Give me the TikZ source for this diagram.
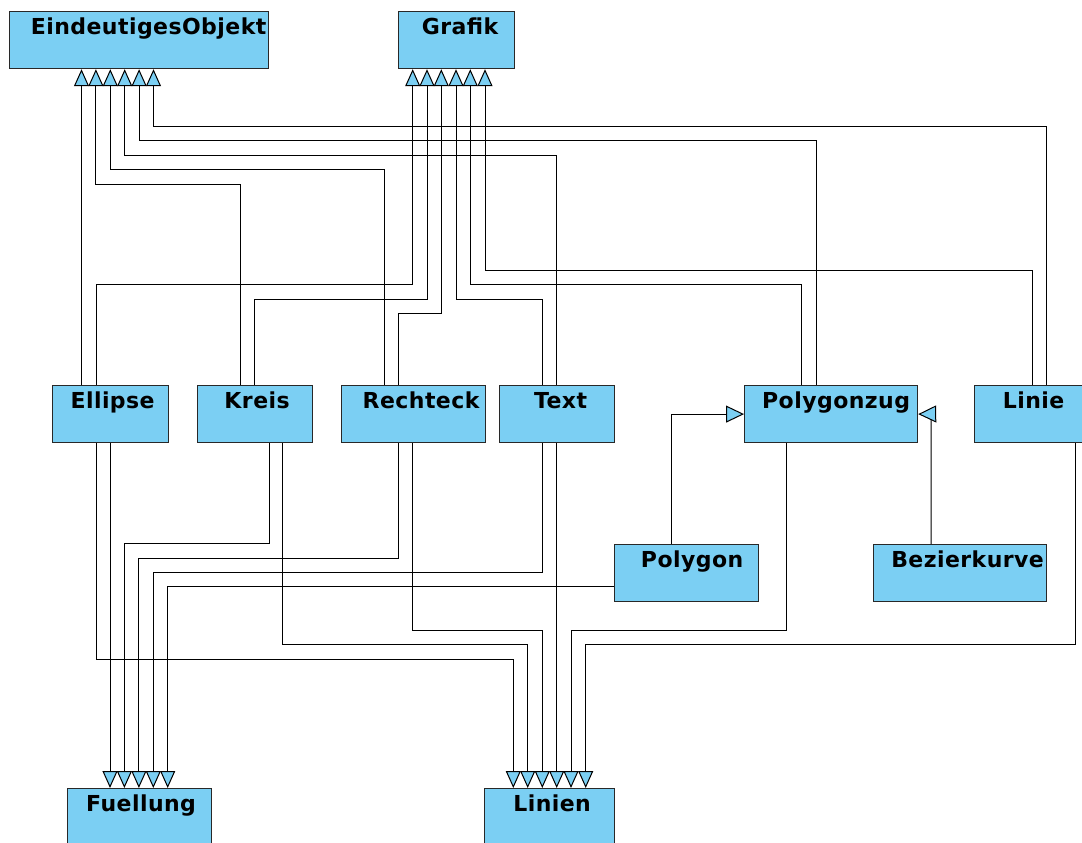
\documentclass[tikz,border=0pt]{standalone}
\usepackage{fontspec}
\setmainfont[LetterSpace=2]{DejaVu Sans}
\usetikzlibrary{arrows.meta}
\definecolor{boxblue}{RGB}{123,207,243}
\definecolor{edgegray}{RGB}{40,40,40}
\begin{document}
\begin{tikzpicture}[x=1pt,y=-1pt,
  box/.style={rectangle, draw=edgegray, line width=1.2pt, fill=boxblue,
    anchor=north west, inner sep=0pt, minimum height=57pt,
    text height=23pt, text depth=34pt,
    font=\fontsize{22}{26}\selectfont\bfseries},
  gen/.style={draw=black, line width=1pt, line join=miter,
    -{Triangle[length=17pt,width=15pt,fill=boxblue]}},
  genside/.style={draw=black, line width=1pt, line join=miter,
    -{Triangle[length=18pt,width=17pt,fill=boxblue]}}]
\useasboundingbox (0,0) rectangle (1082,843);

% classes
\node[box, minimum width=259pt] (eo) at (9,11) {\hspace*{19pt}EindeutigesObjekt};
\node[box, minimum width=116pt] (grafik) at (398,11) {\hspace*{7pt}Grafik};
\node[box, minimum width=116pt] (ellipse) at (52,385) {\hspace*{4pt}Ellipse};
\node[box, minimum width=115pt] (kreis) at (197,385) {\hspace*{4pt}Kreis};
\node[box, minimum width=144pt] (rechteck) at (341,385) {\hspace*{15pt}Rechteck};
\node[box, minimum width=115pt] (text) at (499,385) {\hspace*{7pt}Text};
\node[box, minimum width=173pt] (polygonzug) at (744,385) {\hspace*{10pt}Polygonzug};
\node[box, minimum width=116pt] (linie) at (974,385) {\hspace*{2pt}Linie};
\node[box, minimum width=144pt] (polygon) at (614,544) {\hspace*{11pt}Polygon};
\node[box, minimum width=173pt] (bezier) at (873,544) {\hspace*{15pt}Bezierkurve};
\node[box, minimum width=144pt] (fuellung) at (67,788) {\hspace*{3pt}Fuellung};
\node[box, minimum width=130pt] (linien) at (484,788) {\hspace*{5pt}Linien};

% generalisations to EindeutigesObjekt
\draw[gen] (ellipse.north -| 81.5,0) -- (eo.south -| 81.5,0);
\draw[gen] (kreis.north -| 240,0) |- (95.9,184) -- (eo.south -| 95.9,0);
\draw[gen] (rechteck.north -| 384,0) |- (110.3,169) -- (eo.south -| 110.3,0);
\draw[gen] (text.north -| 556.7,0) |- (124.7,155) -- (eo.south -| 124.7,0);
\draw[gen] (polygonzug.north -| 816,0) |- (139.1,140) -- (eo.south -| 139.1,0);
\draw[gen] (linie.north -| 1046.5,0) |- (153.5,126) -- (eo.south -| 153.5,0);

% generalisations to Grafik
\draw[gen] (ellipse.north -| 96,0) |- (412.7,284) -- (grafik.south -| 412.7,0);
\draw[gen] (kreis.north -| 254,0) |- (427,299) -- (grafik.south -| 427,0);
\draw[gen] (rechteck.north -| 398.3,0) |- (441.3,313) -- (grafik.south -| 441.3,0);
\draw[gen] (text.north -| 542.3,0) |- (456,299) -- (grafik.south -| 456,0);
\draw[gen] (polygonzug.north -| 801.7,0) |- (470.3,284) -- (grafik.south -| 470.3,0);
\draw[gen] (linie.north -| 1032,0) |- (485,270) -- (grafik.south -| 485,0);

% generalisations to Polygonzug
\draw[genside] (polygon.north -| 671.7,0) |- (polygonzug.west);
\draw[genside] (bezier.north -| 931,0) -- (931,414) -- (polygonzug.east);

% generalisations to Fuellung
\draw[gen] (ellipse.south -| 110,0) -- (fuellung.north -| 110,0);
\draw[gen] (kreis.south -| 269,0) |- (124.4,543.7) -- (fuellung.north -| 124.4,0);
\draw[gen] (rechteck.south -| 398.3,0) |- (138.9,558) -- (fuellung.north -| 138.9,0);
\draw[gen] (text.south -| 542.3,0) |- (153.3,572.7) -- (fuellung.north -| 153.3,0);
\draw[gen] (polygon.west |- 0,586.7) -- (167.7,586.7) -- (fuellung.north -| 167.7,0);

% generalisations to Linien
\draw[gen] (ellipse.south -| 96,0) |- (513.3,659) -- (linien.north -| 513.3,0);
\draw[gen] (kreis.south -| 282.7,0) |- (527.7,644) -- (linien.north -| 527.7,0);
\draw[gen] (rechteck.south -| 412.7,0) |- (542.3,630) -- (linien.north -| 542.3,0);
\draw[gen] (text.south -| 556.7,0) -- (linien.north -| 556.7,0);
\draw[gen] (polygonzug.south -| 786.7,0) |- (571,630) -- (linien.north -| 571,0);
\draw[gen] (linie.south -| 1075,0) |- (585.7,644.5) -- (linien.north -| 585.7,0);
\end{tikzpicture}
\end{document}
